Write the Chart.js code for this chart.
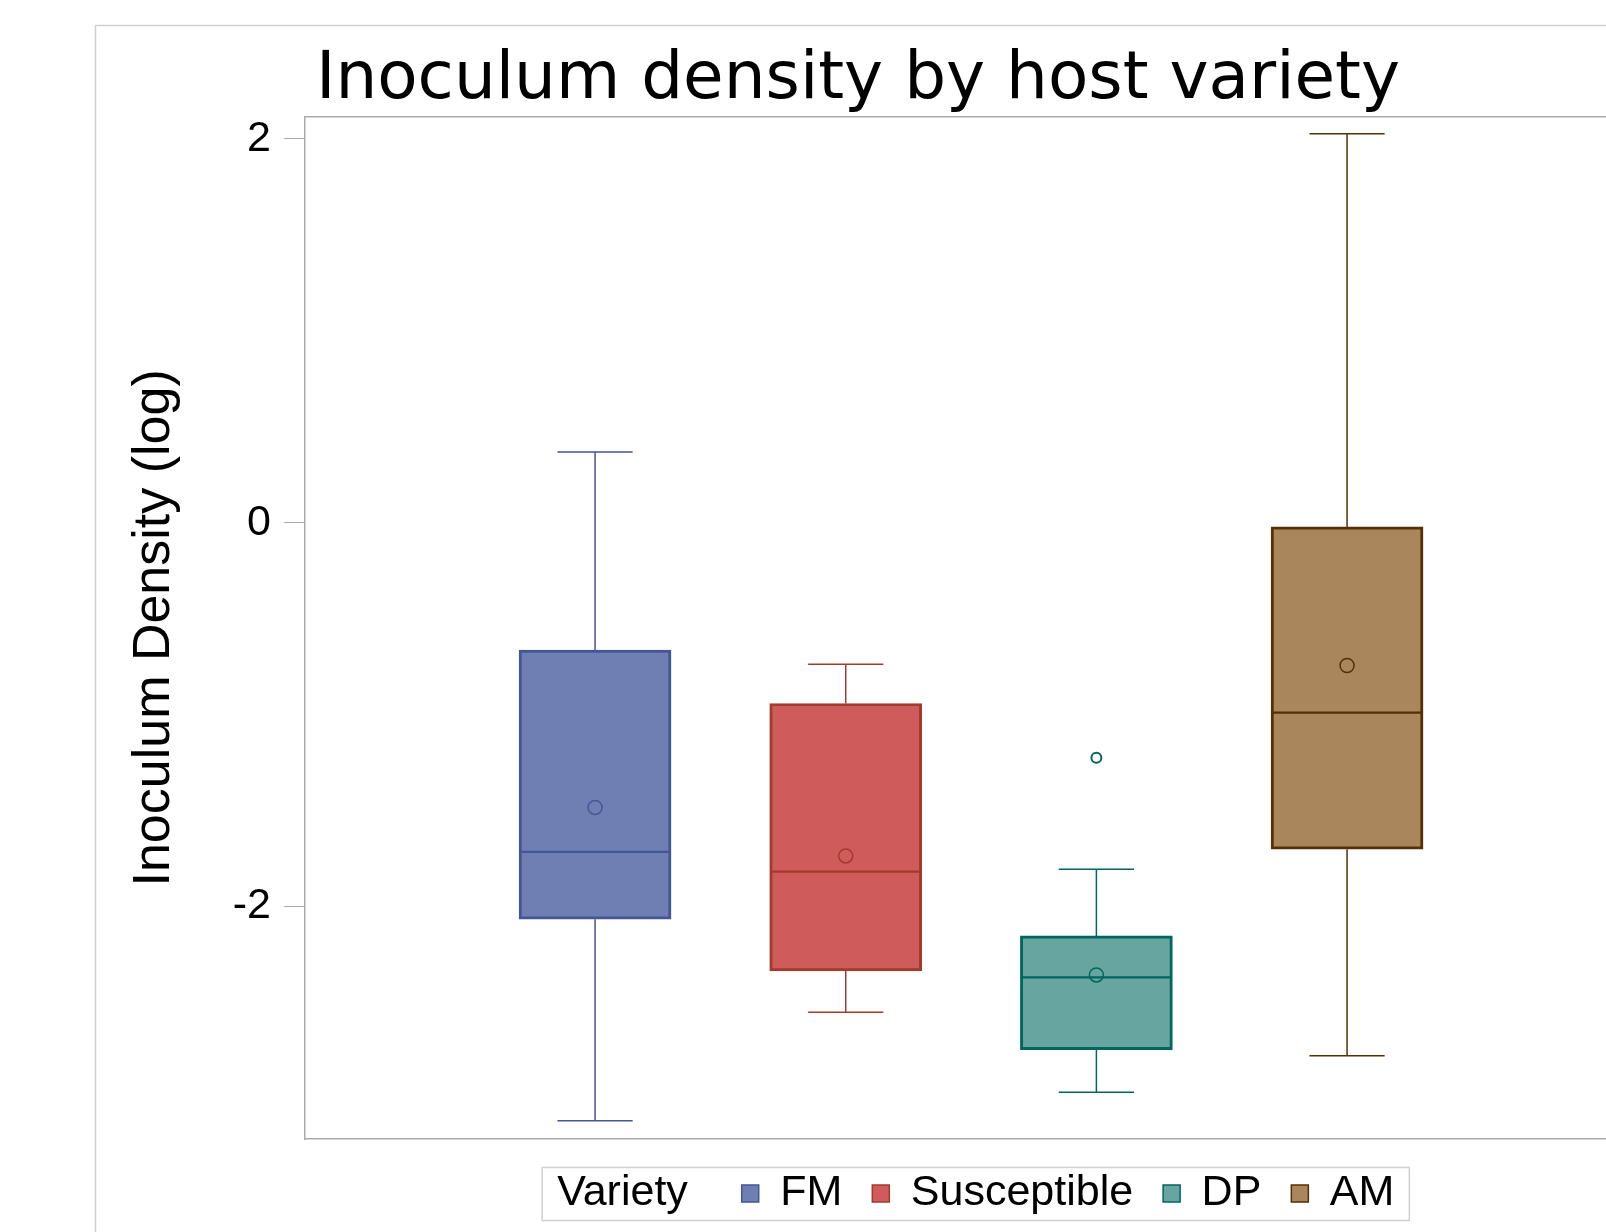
<!DOCTYPE html>
<html>
<head>
<meta charset="utf-8">
<script src="https://cdn.jsdelivr.net/npm/chart.js@4.4.1/dist/chart.umd.min.js"></script>
<style>
  html, body { margin: 0; padding: 0; overflow: hidden; background: #fff; width: 1606px; height: 1232px; }
  #c { position: absolute; left: 0; top: 0; }
</style>
</head>
<body>
<canvas id="c" width="1716" height="1232"></canvas>
<script>
// ---- data ----
const categories   = ['FM', 'Susceptible', 'DP', 'AM'];
const whiskerLow   = [-3.116, -2.551, -2.968, -2.777];
const q1           = [-2.066, -2.335, -2.746, -1.701];
const median       = [-1.715, -1.818, -2.369, -0.989];
const q3           = [-0.664, -0.942, -2.153, -0.022];
const whiskerHigh  = [0.369, -0.738, -1.805, 2.027];
const means        = [-1.484, -1.736, -2.356, -0.744];
const outlierCategory = ['DP'];
const outlierValue    = [-1.224];
const yTicks = [-2, 0, 2];
const legendTitle = 'Variety';
const chartTitle = 'Inoculum density by host variety';
const yTitle = 'Inoculum Density (log)';

// ---- styles ----
const fillColors     = ['#6F7EB3', '#D05B5B', '#66A5A0', '#A9865B'];
const contrastColors = ['#445694', '#A23A2E', '#01665E', '#543005'];
const frameColor = '#a7abb0';
const capHalf = 0.15;
const boxHalf = 0.30;

const pos = categories.map((c, i) => i + 1);

const datasets = [];

// mean markers
datasets.push({
  type: 'scatter',
  label: 'mean',
  order: 1,
  data: pos.map((p, i) => ({ x: p, y: means[i] })),
  pointStyle: 'circle',
  pointRadius: 7,
  pointBorderWidth: 1.5,
  pointBackgroundColor: 'rgba(0,0,0,0)',
  pointBorderColor: contrastColors,
  showLine: false
});

// outliers
datasets.push({
  type: 'scatter',
  label: 'outlier',
  order: 1,
  data: outlierCategory.map((c, k) => ({ x: categories.indexOf(c) + 1, y: outlierValue[k] })),
  pointStyle: 'circle',
  pointRadius: 5,
  pointBorderWidth: 2,
  pointBackgroundColor: 'rgba(0,0,0,0)',
  pointBorderColor: outlierCategory.map(c => contrastColors[categories.indexOf(c)]),
  showLine: false
});

// medians and whiskers
categories.forEach((c, i) => {
  const p = pos[i];
  datasets.push({
    type: 'line',
    label: c + ' median',
    order: 2,
    data: [{ x: p - boxHalf, y: median[i] }, { x: p + boxHalf, y: median[i] }],
    borderColor: contrastColors[i],
    borderWidth: 2.2,
    pointRadius: 0,
    spanGaps: false
  });
  datasets.push({
    type: 'line',
    label: c + ' whiskers',
    order: 3,
    data: [
      { x: p - capHalf, y: whiskerHigh[i] }, { x: p + capHalf, y: whiskerHigh[i] },
      { x: p, y: whiskerHigh[i] }, { x: p, y: q3[i] },
      { x: p, y: null },
      { x: p, y: q1[i] }, { x: p, y: whiskerLow[i] },
      { x: p - capHalf, y: whiskerLow[i] }, { x: p + capHalf, y: whiskerLow[i] }
    ],
    borderColor: contrastColors[i],
    borderWidth: 1.5,
    pointRadius: 0,
    spanGaps: false
  });
});

// boxes
datasets.push({
  type: 'bar',
  label: 'boxes',
  order: 10,
  data: pos.map((p, i) => ({ x: p, y: [q1[i], q3[i]] })),
  backgroundColor: fillColors,
  borderColor: contrastColors,
  borderWidth: 3,
  borderSkipped: false,
  barThickness: 152
});

const legendFont = 43;
const legendBox = 17;

const framePlugin = {
  id: 'frames',
  beforeDraw(chart) {
    const ctx = chart.ctx;
    ctx.save();
    ctx.strokeStyle = '#d0d0d0';
    ctx.lineWidth = 1.5;
    ctx.strokeRect(95.5, 25.5, chart.width + 20, chart.height + 20);
    ctx.restore();
  },
  afterDraw(chart) {
    const lg = chart.legend;
    const hb = lg.legendHitBoxes;
    if (!hb || !hb.length) return;
    const ctx = chart.ctx;
    const left = hb[0].left + legendBox + legendFont / 2 - 15;
    const last = hb[hb.length - 1];
    const right = last.left + last.width + 15;
    const cy = hb[0].top + legendFont / 2 + 0.5;
    ctx.save();
    ctx.strokeStyle = '#d0d0d0';
    ctx.lineWidth = 1.5;
    ctx.strokeRect(left, cy - 26.5, right - left, 53);
    ctx.restore();
  }
};

Chart.defaults.font.family = '"Liberation Sans", Arial, sans-serif';
Chart.defaults.color = '#000';

new Chart(document.getElementById('c'), {
  type: 'bar',
  data: { datasets },
  options: {
    responsive: false,
    animation: false,
    events: [],
    layout: { padding: { left: 108, right: 108, top: 0, bottom: 7 } },
    plugins: {
      title: {
        display: true,
        text: chartTitle,
        color: '#000',
        font: { family: '"DejaVu Sans", Verdana, sans-serif', size: 66, weight: 'normal', lineHeight: 1.0 },
        padding: { top: 47.6, bottom: 3.2 }
      },
      legend: {
        display: true,
        position: 'bottom',
        fullSize: false,
        align: 'center',
        labels: {
          boxWidth: legendBox,
          boxHeight: legendBox,
          padding: 30,
          color: '#000',
          font: { size: legendFont },
          generateLabels: () => [
            { text: legendTitle + '  ', fillStyle: 'rgba(0,0,0,0)', strokeStyle: 'rgba(0,0,0,0)', lineWidth: 0, fontColor: '#000', hidden: false },
            ...categories.map((c, i) => ({
              text: c, fillStyle: fillColors[i], strokeStyle: contrastColors[i], lineWidth: 1.5, fontColor: '#000', hidden: false
            }))
          ]
        }
      },
      tooltip: { enabled: false }
    },
    scales: {
      x: {
        type: 'linear',
        position: 'bottom',
        offset: false,
        min: -0.157,
        max: 5.041,
        ticks: { display: false },
        grid: { display: false, drawTicks: true, tickLength: 3 },
        border: { display: true, color: frameColor, width: 1.5 }
      },
      x2: {
        type: 'linear',
        axis: 'x',
        position: 'top',
        min: 0, max: 1,
        ticks: { display: false },
        grid: { display: false, drawTicks: false },
        border: { display: true, color: frameColor, width: 1.5 }
      },
      y: {
        type: 'linear',
        position: 'left',
        min: -3.211,
        max: 2.115,
        beginAtZero: false,
        afterBuildTicks: (scale) => { scale.ticks = yTicks.map(v => ({ value: v })); },
        ticks: {
          color: '#000',
          padding: 13,
          font: { size: 43 },
          callback: (v) => String(v)
        },
        grid: { display: true, drawOnChartArea: false, drawTicks: true, tickLength: 21, color: frameColor, lineWidth: 1 },
        border: { display: true, color: frameColor, width: 1.5 },
        title: {
          display: true,
          text: yTitle,
          color: '#000',
          font: { size: 52, lineHeight: 1.2 },
          padding: { top: 15.8, bottom: 33.6 }
        }
      }
    }
  },
  plugins: [framePlugin]
});
</script>
</body>
</html>
